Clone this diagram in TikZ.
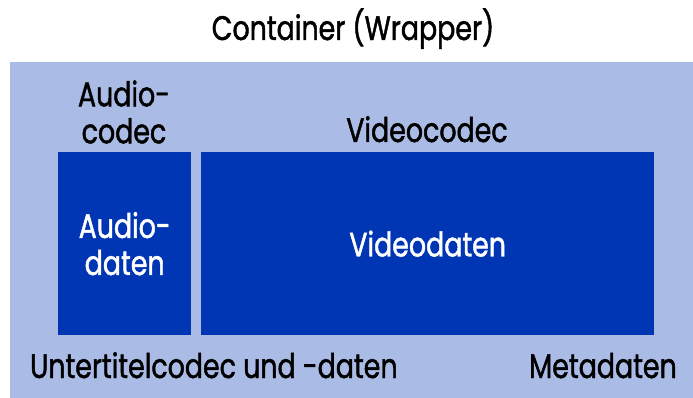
\documentclass[tikz,border=0pt]{standalone}
\usepackage{fontspec}
\setmainfont{Poppins}[FakeStretch=0.79, FakeBold=1.3]
\definecolor{wrapbg}{HTML}{AABCE5}
\definecolor{streamblue}{HTML}{0036B4}
\tikzstyle{box}=[inner sep=0pt, anchor=north west]
\tikzstyle{stream}=[box, fill=streamblue]
\tikzstyle{lbl}=[font=\fontsize{34}{37}\selectfont, inner sep=0pt, align=center]
\tikzstyle{wlbl}=[lbl, text=white]
\begin{document}
\begin{tikzpicture}[x=1pt, y=-1pt]
    \useasboundingbox (0,0) rectangle (693,398);
    % container and the two streams
    \node[box, fill=wrapbg, minimum width=683pt, minimum height=336pt] (wrapper) at (10,62) {};
    \node[stream, minimum width=133pt, minimum height=183pt] (audio) at (58,152) {};
    \node[stream, minimum width=453pt, minimum height=183pt] (video) at (201,152) {};
    % labels
    \node[lbl, anchor=base] (title) at (353,40) {Container (Wrapper)};
    \node[lbl] (acodec) at (124,112) {Audio-\\codec};
    \node[lbl, anchor=base] (vcodec) at (427,142) {Videocodec};
    \node[wlbl] (adata) at (audio.center) {Audio-\\daten};
    \node[wlbl] (vdata) at (video.center) {Videodaten};
    \node[lbl, anchor=base west] (subs) at (30,378) {Untertitelcodec und -daten};
    \node[lbl, anchor=base east] (meta) at (677,378) {Metadaten};
\end{tikzpicture}
\end{document}
